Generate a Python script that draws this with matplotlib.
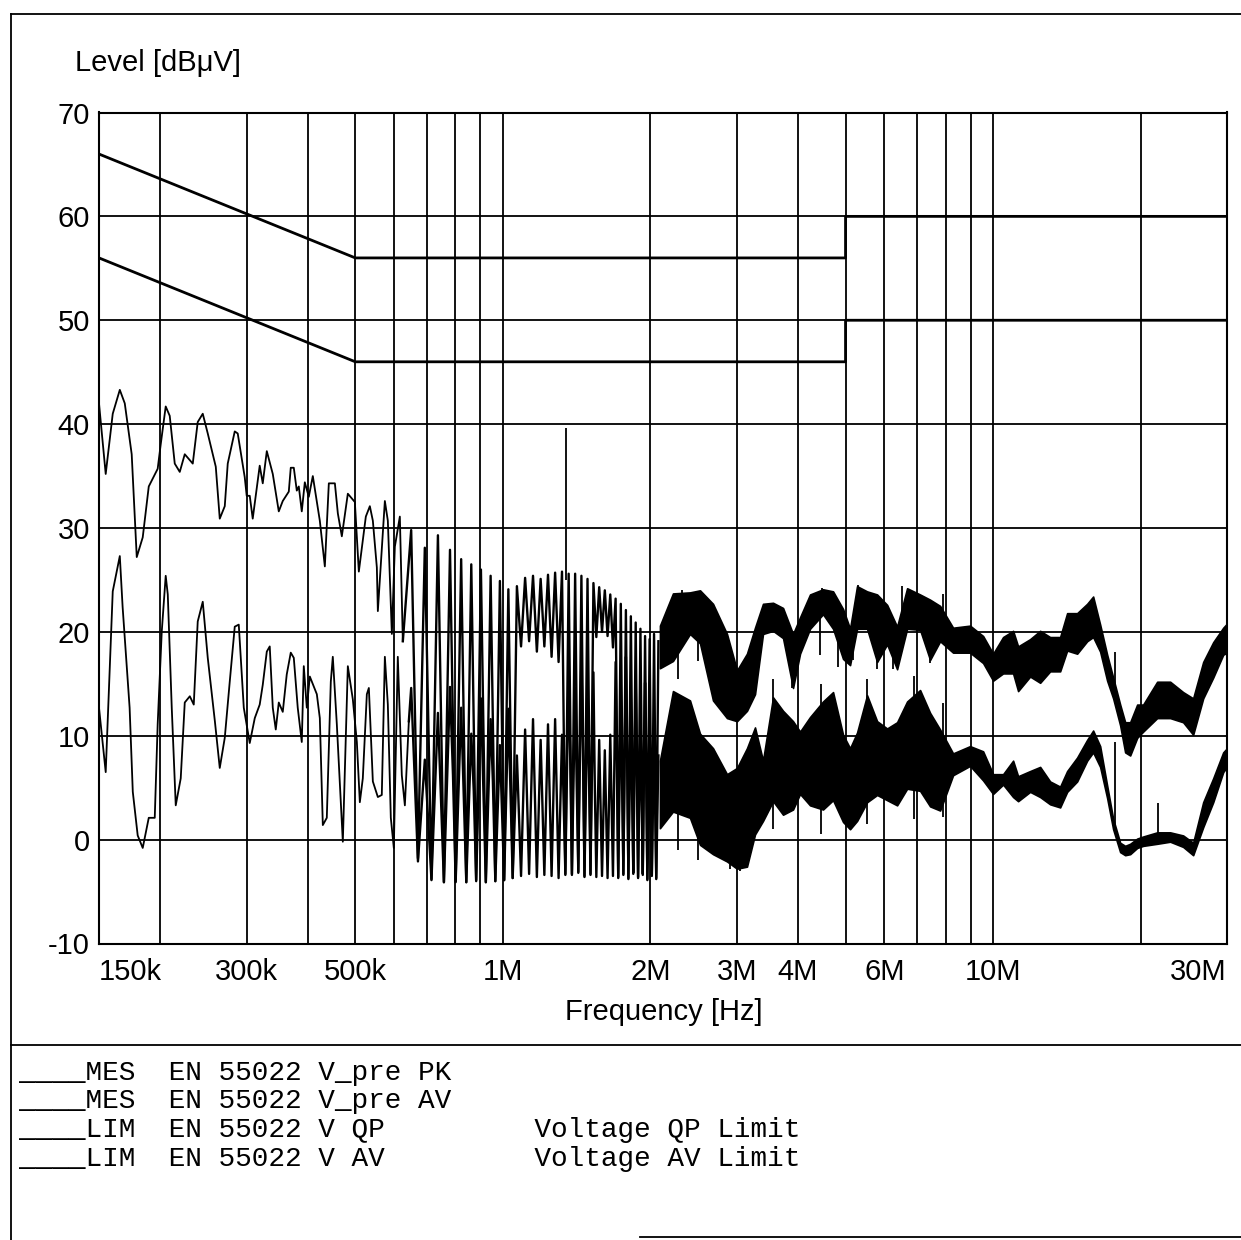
import matplotlib
matplotlib.use("Agg")
import matplotlib.pyplot as plt
from matplotlib.lines import Line2D

plt.rcParams["axes.unicode_minus"] = False

W, H = 1241, 1240

# limit lines (Hz, dBuV)
lim_freq = [150e3, 500e3, 5e6, 5e6, 30e6]
qp_limit = [66, 56, 56, 60, 60]
av_limit = [56, 46, 46, 50, 50]

# PK trace, 150 kHz - 625 kHz (kHz, dBuV)
pk_f1 = [150, 154.8, 160.0, 165.4, 169.3, 174.9, 179.1, 184.2, 189.5, 197.6,
         200.5, 205.2, 209.1, 214.1, 219.2, 224.4, 233.0, 238.5, 244.2, 250.0,
         259.6, 264.5, 270.8, 274.6, 283.8, 287.8, 297.4, 300.2, 304.5, 308.8,
         319.1, 323.7, 329.9, 339.3, 349.0, 355.6, 365.8, 369.2, 374.5, 379.8,
         383.4, 388.8, 394.4, 401.8, 409.5, 423.2, 433.3, 441.5, 454.2, 460.6,
         469.3, 482.7, 498.9, 508.3, 525.3, 535.3, 542.9, 553.2, 555.8, 574.4,
         582.5, 593.6, 602.0, 616.3, 625.0]
pk_v1 = [42.0, 35.2, 41.0, 43.3, 42.0, 37.1, 27.2, 29.1, 34.0, 35.7,
         38.1, 41.7, 40.8, 36.2, 35.4, 37.1, 36.2, 40.2, 41.0, 39.1,
         35.9, 30.9, 32.1, 36.2, 39.3, 39.1, 34.9, 33.1, 33.1, 30.9,
         36.0, 34.3, 37.4, 35.2, 31.6, 32.6, 33.5, 35.8, 35.8, 33.6,
         34.0, 31.6, 34.4, 33.0, 35.0, 30.7, 26.3, 34.3, 34.3, 31.4,
         29.2, 33.3, 32.5, 25.8, 31.1, 32.1, 30.7, 26.2, 22.0, 32.6,
         30.7, 19.8, 28.2, 31.1, 19.1]

# PK trace, harmonic comb 650 kHz - 2.08 MHz (kHz, dBuV)
pk_f2 = [650, 671, 693, 715, 737, 758, 780, 801, 822, 842,
         862, 882, 902, 923, 944, 965, 986, 1006, 1026, 1047,
         1068, 1089, 1110, 1131, 1152, 1173, 1194, 1215, 1236, 1257,
         1278, 1299, 1320, 1341, 1362, 1383, 1404, 1425, 1446, 1467,
         1488, 1509, 1530, 1551, 1572, 1593, 1614, 1635, 1656, 1677,
         1698, 1719, 1740, 1761, 1782, 1803, 1824, 1845, 1866, 1887,
         1908, 1929, 1950, 1971, 1992, 2013, 2034, 2055, 2076]
pk_v2 = [29.8, -1.8, 28.1, -3.8, 29.3, -4.1, 27.9, -4.0, 27.0, -4.1,
         26.5, -3.9, 26.0, -4.1, 25.4, -4.0, 24.9, -3.9, 24.1, -3.7,
         24.4, 18.6, 25.2, 19.1, 25.4, 18.1, 25.1, 18.6, 25.5, 17.6,
         25.7, 17.1, 25.8, -3.4, 25.6, -3.4, 25.6, -3.2, 25.4, -3.6,
         25.1, -3.4, 24.7, 19.5, 24.3, 20.0, 24.0, 19.6, 23.6, 18.5,
         23.2, -3.7, 22.7, -3.4, 22.1, -3.8, 21.5, -3.3, 20.9, -3.7,
         20.3, -3.4, 19.6, -3.9, 19.3, -3.5, 19.8, -3.8, 19.1]

# AV trace, 150 kHz - 643 kHz (kHz, dBuV)
av_f1 = [150, 154.8, 160.0, 165.4, 167.6, 173.2, 175.8, 179.9, 184.2, 189.5,
         194.9, 197.6, 201.4, 205.2, 207.2, 211.1, 215.1, 220.2, 224.4, 229.8,
         234.1, 238.5, 244.2, 250.0, 258.5, 264.5, 270.8, 277.2, 283.8, 289.2,
         296.1, 304.5, 311.8, 319.1, 323.7, 329.9, 334.5, 339.3, 344.1, 349.0,
         355.6, 362.3, 369.2, 374.5, 381.5, 388.8, 392.5, 398.1, 403.8, 417.3,
         423.2, 429.2, 437.3, 445.6, 449.8, 458.4, 471.5, 482.7, 494.2, 503.6,
         510.7, 517.9, 527.8, 532.8, 542.9, 555.8, 566.2, 574.4, 582.5, 590.7,
         599.1, 610.4, 622.0, 631.0, 642.9]
av_v1 = [12.7, 6.5, 23.9, 27.3, 22.4, 12.7, 4.6, 0.4, -0.8, 2.1,
         2.1, 11.1, 20.0, 25.4, 23.6, 12.7, 3.3, 5.9, 13.2, 13.8,
         13.0, 21.0, 22.9, 17.5, 11.4, 6.9, 9.8, 15.2, 20.5, 20.7,
         12.7, 9.3, 11.7, 13.0, 14.9, 18.1, 18.6, 12.7, 10.6, 13.2,
         12.3, 15.9, 18.0, 17.5, 12.7, 9.4, 16.7, 12.7, 15.7, 14.0,
         11.7, 1.4, 2.1, 15.2, 17.6, 11.1, -0.2, 16.7, 13.5, 9.4,
         3.6, 5.9, 14.0, 14.6, 5.6, 4.1, 4.3, 17.6, 13.0, 2.1,
         -0.8, 17.6, 6.2, 3.3, 11.4]

# AV trace, harmonic comb 650 kHz - 2.08 MHz (kHz, dBuV)
av_f2 = [650, 671, 693, 715, 737, 758, 780, 791, 801, 822,
         842, 862, 872, 882, 902, 923, 944, 954, 965, 986,
         1006, 1026, 1047, 1068, 1089, 1110, 1131, 1152, 1173, 1194,
         1215, 1236, 1257, 1278, 1299, 1320, 1341, 1362, 1372, 1383,
         1404, 1414, 1425, 1446, 1456, 1467, 1488, 1498, 1509, 1530,
         1540, 1551, 1572, 1593, 1614, 1635, 1656, 1677, 1698, 1708,
         1719, 1740, 1750, 1761, 1782, 1792, 1803, 1824, 1834, 1845,
         1866, 1876, 1887, 1908, 1918, 1929, 1950, 1960, 1971, 1992,
         2013, 2034, 2055, 2076]
av_v2 = [14.6, -2.1, 7.7, -3.9, 12.2, -4.1, 14.7, 6.2, -4.1, 12.7,
         -4.1, 10.2, 4.7, -4.0, 13.6, -4.1, 11.6, 5.6, -4.0, 9.1,
         -3.9, 12.6, -3.7, 8.1, -3.5, 10.6, -3.3, 11.6, -3.6, 9.6,
         -3.4, 11.1, -3.5, 11.6, -3.7, 10.1, -3.3, 16.6, 7.6, -3.3,
         14.6, 5.6, -3.1, 17.6, 8.6, -3.5, 13.6, 6.6, -3.3, 16.1,
         5.1, -3.6, 9.6, -3.5, 8.6, -3.7, 10.1, -3.5, 17.1, 7.1,
         -3.6, 14.6, 5.6, -3.3, 17.6, 8.1, -3.7, 13.6, 4.6, -3.2,
         15.6, 6.6, -3.6, 11.6, 4.1, -3.3, 15.1, 6.1, -3.8, 7.6,
         -3.4, 9.6, -3.7, 8.1]

# dense noise region 2.09 MHz - 30 MHz: envelope of both traces (kHz, dBuV)
band_f = [2091, 2223, 2408, 2524, 2683, 2865, 3003, 3147, 3268, 3393,
          3557, 3728, 3907, 4038, 4232, 4498, 4715, 4942, 5107, 5278,
          5532, 5799, 6078, 6370, 6677, 7096, 7438, 7796, 8286, 8974,
          9541, 10000, 10481, 10985, 11246, 11899, 12472, 13071, 13700, 14159,
          14839, 15553, 15998, 16533, 17086, 17575, 18163, 18595, 19037, 19674,
          20236, 21612, 22971, 24415, 25590, 26827, 28117, 29471, 30000]
pk_hi = [20.6, 23.7, 23.8, 24.0, 22.7, 19.8, 16.3, 17.9, 20.4, 22.7,
         22.8, 22.3, 19.8, 21.4, 23.6, 24.1, 23.9, 22.2, 20.3, 24.4,
         23.9, 23.6, 22.6, 20.5, 24.2, 23.6, 23.1, 22.5, 20.4, 20.6,
         19.6, 17.9, 19.5, 20.1, 18.6, 19.3, 20.1, 19.5, 19.5, 21.8,
         21.8, 22.7, 23.4, 20.7, 17.8, 15.6, 13.0, 11.3, 11.3, 13.0,
         13.0, 15.2, 15.2, 14.2, 13.6, 17.1, 19.0, 20.4, 20.8]
pk_lo = [16.5, 17.2, 19.8, 18.9, 13.4, 11.7, 11.4, 12.4, 14.0, 19.8,
         20.1, 19.4, 14.6, 17.9, 20.3, 21.7, 20.3, 17.4, 16.8, 20.3,
         20.3, 17.1, 18.8, 16.4, 20.3, 20.2, 17.3, 19.1, 18.0, 18.0,
         17.0, 15.3, 16.0, 16.0, 14.3, 15.7, 15.1, 16.2, 16.2, 18.2,
         17.9, 19.1, 19.5, 18.1, 15.3, 13.6, 11.0, 8.4, 8.1, 9.8,
         10.4, 11.7, 11.7, 11.3, 10.1, 13.6, 15.6, 17.8, 18.0]
av_hi = [7.6, 14.3, 13.4, 10.2, 8.8, 6.3, 6.9, 8.8, 10.8, 7.6,
         13.7, 12.4, 11.4, 10.4, 11.8, 13.3, 14.2, 10.1, 8.8, 10.3,
         13.9, 11.4, 10.7, 11.3, 13.3, 14.4, 12.2, 10.6, 8.3, 9.0,
         8.5, 6.3, 6.3, 7.6, 6.1, 6.6, 7.0, 5.6, 5.1, 6.6,
         7.9, 9.6, 10.5, 9.0, 5.2, 2.0, -0.3, -0.6, -0.4, 0.1,
         0.3, 0.7, 0.7, 0.4, -0.3, 3.6, 5.9, 8.4, 8.8]
av_lo = [1.1, 2.7, 2.1, -0.5, -1.4, -2.1, -2.8, -2.6, 0.5, 1.8,
         3.7, 2.4, 2.9, 4.4, 3.3, 2.9, 3.8, 1.7, 1.0, 1.8,
         3.6, 4.3, 3.8, 3.3, 4.9, 4.7, 3.2, 2.8, 6.2, 7.1,
         5.7, 4.4, 5.3, 4.1, 3.7, 4.6, 4.1, 3.4, 3.1, 4.6,
         5.6, 7.6, 8.4, 7.0, 4.0, 1.0, -1.2, -1.5, -1.4, -0.8,
         -0.6, -0.4, -0.2, -0.7, -1.5, 1.2, 3.6, 6.5, 7.0]

# narrow spikes sticking out of the traces (kHz, dBuV)
pk_spike_f = [1345, 2276, 2319, 2500, 3889, 4437, 4479, 4827, 5180, 5303,
              5799, 6252, 6521, 7438, 7907, 17700]
pk_spike_lo = [25.0, 15.5, 20.0, 17.2, 14.6, 17.8, 22.0, 16.6, 17.3, 22.0,
               16.4, 16.4, 22.0, 17.0, 19.0, 15.0]
pk_spike_hi = [39.6, 20.0, 24.0, 22.0, 18.0, 22.0, 24.2, 21.0, 20.0, 24.5,
               20.0, 19.0, 24.4, 19.0, 23.6, 18.1]
av_spike_f = [2276, 2500, 2900, 3050, 3560, 4450, 5530, 6900, 7907, 17700, 21700]
av_spike_lo = [-1.0, -2.0, -2.8, -3.0, 1.0, 0.5, 1.5, 2.0, 2.2, 1.0, 0.0]
av_spike_hi = [8.0, 6.0, 4.0, 3.0, 15.5, 15.0, 15.5, 15.8, 13.2, 9.4, 3.5]

grid_freq = [200e3, 300e3, 400e3, 500e3, 600e3, 700e3, 800e3, 900e3, 1e6,
             2e6, 3e6, 4e6, 5e6, 6e6, 7e6, 8e6, 9e6, 10e6, 20e6]
tick_freq = [150e3, 300e3, 500e3, 1e6, 2e6, 3e6, 4e6, 6e6, 10e6, 30e6]
tick_text = ["150k", "300k", "500k", "1M", "2M", "3M", "4M", "6M", "10M", "30M"]
y_ticks = [-10, 0, 10, 20, 30, 40, 50, 60, 70]

legend_rows = [
    "____MES  EN 55022 V_pre PK",
    "____MES  EN 55022 V_pre AV",
    "____LIM  EN 55022 V QP         Voltage QP Limit",
    "____LIM  EN 55022 V AV         Voltage AV Limit",
]


def khz(values):
    return [v * 1e3 for v in values]


fig = plt.figure(figsize=(W / 100, H / 100), dpi=100)
ax = fig.add_axes([99 / W, 1 - 943.5 / H, (1227 - 99) / W, (943.5 - 112.5) / H])

ax.set_xscale("log")
ax.set_xlim(150e3, 30e6)
ax.set_ylim(-10, 70)

# grid
for f in grid_freq:
    ax.axvline(f, color="black", lw=1.3, zorder=1)
for v in y_ticks[1:-1]:
    ax.axhline(v, color="black", lw=1.3, zorder=1)

# limits
ax.plot(lim_freq, qp_limit, color="black", lw=2.0, zorder=4)
ax.plot(lim_freq, av_limit, color="black", lw=2.0, zorder=4)

# measurement traces
ax.plot(khz(pk_f1), pk_v1, color="black", lw=1.3, zorder=3)
ax.plot(khz(av_f1), av_v1, color="black", lw=1.3, zorder=3)
ax.plot(khz(pk_f1[-1:] + pk_f2), pk_v1[-1:] + pk_v2, color="black", lw=1.7, zorder=3)
ax.plot(khz(av_f1[-1:] + av_f2), av_v1[-1:] + av_v2, color="black", lw=1.7, zorder=3)
ax.fill_between(khz(band_f), pk_lo, pk_hi, facecolor="black", edgecolor="black",
                lw=1.2, zorder=3)
ax.fill_between(khz(band_f), av_lo, av_hi, facecolor="black", edgecolor="black",
                lw=1.2, zorder=3)
ax.vlines(khz(pk_spike_f), pk_spike_lo, pk_spike_hi, color="black", lw=1.3, zorder=3)
ax.vlines(khz(av_spike_f), av_spike_lo, av_spike_hi, color="black", lw=1.3, zorder=3)

# ticks
ax.set_xticks(tick_freq)
ax.set_xticklabels(tick_text)
ax.minorticks_off()
ax.set_yticks(y_ticks)
ax.set_yticklabels([str(v) for v in y_ticks])
ax.tick_params(which="both", length=0)
ax.tick_params(axis="x", pad=10.5, labelsize=21)
ax.tick_params(axis="y", pad=6.5, labelsize=21)
for lab in ax.get_xticklabels() + ax.get_yticklabels():
    lab.set_family("Liberation Sans")
ax.get_xticklabels()[0].set_horizontalalignment("left")
ax.get_xticklabels()[-1].set_horizontalalignment("right")
for sp in ax.spines.values():
    sp.set_linewidth(1.5)

# axis titles
fig.text(75 / W, 1 - 71 / H, "Level [dBμV]", family="Liberation Sans",
         fontsize=21, va="baseline", ha="left")
fig.text(664 / W, 1 - 1020 / H, "Frequency [Hz]", family="Liberation Sans",
         fontsize=21, va="baseline", ha="center")


# page frame
def frame_line(x0, y0, x1, y1, lw=1.3):
    fig.add_artist(Line2D([x0 / W, x1 / W], [1 - y0 / H, 1 - y1 / H],
                          color="black", lw=lw, transform=fig.transFigure))


frame_line(11, 14, W, 14)
frame_line(11, 14, 11, H)
frame_line(11, 1045, W, 1045)
frame_line(640, 1237, W, 1237)

# legend block
for i, row in enumerate(legend_rows):
    fig.text(19 / W, 1 - (1080 + 28.5 * i) / H, row, family="Liberation Mono",
             fontsize=20, va="baseline", ha="left")

fig.savefig("out.png", dpi=100)
